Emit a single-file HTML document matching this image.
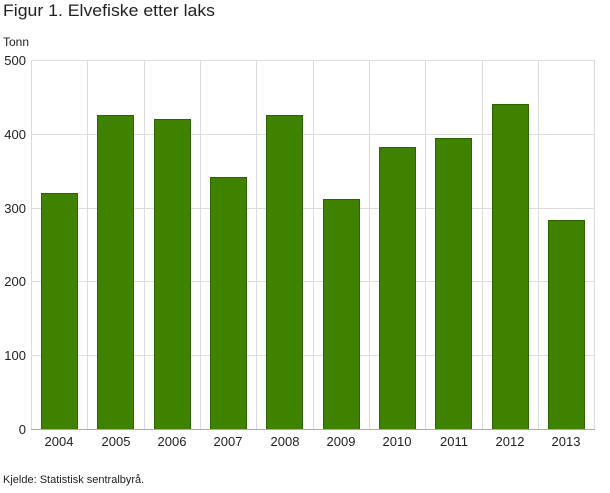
<!DOCTYPE html>
<html><head><meta charset="utf-8"><style>
body{margin:0;background:#fff;width:610px;height:488px;overflow:hidden;font-family:"Liberation Sans",sans-serif}
</style></head><body>
<svg width="610" height="488" xmlns="http://www.w3.org/2000/svg" font-family="Liberation Sans, sans-serif">
<text x="3" y="16" font-size="17" fill="#222" textLength="212" lengthAdjust="spacingAndGlyphs">Figur 1. Elvefiske etter laks</text>
<text x="3" y="46" font-size="12" fill="#222">Tonn</text>
<g stroke="#dcdcdc" stroke-width="1">
<line x1="31" y1="60.5" x2="595" y2="60.5"/>
<line x1="31" y1="134.5" x2="595" y2="134.5"/>
<line x1="31" y1="208.5" x2="595" y2="208.5"/>
<line x1="31" y1="281.5" x2="595" y2="281.5"/>
<line x1="31" y1="355.5" x2="595" y2="355.5"/>
<line x1="31.5" y1="60" x2="31.5" y2="429"/>
<line x1="87.5" y1="60" x2="87.5" y2="429"/>
<line x1="144.5" y1="60" x2="144.5" y2="429"/>
<line x1="200.5" y1="60" x2="200.5" y2="429"/>
<line x1="256.5" y1="60" x2="256.5" y2="429"/>
<line x1="313.5" y1="60" x2="313.5" y2="429"/>
<line x1="369.5" y1="60" x2="369.5" y2="429"/>
<line x1="425.5" y1="60" x2="425.5" y2="429"/>
<line x1="482.5" y1="60" x2="482.5" y2="429"/>
<line x1="538.5" y1="60" x2="538.5" y2="429"/>
<line x1="594.5" y1="60" x2="594.5" y2="429"/>
</g>
<g fill="#3f8200" stroke="#2e6400" stroke-width="1">
<rect x="41.5" y="193.5" width="36" height="236"/>
<rect x="97.5" y="115.5" width="36" height="314"/>
<rect x="154.5" y="119.5" width="36" height="310"/>
<rect x="210.5" y="177.5" width="36" height="252"/>
<rect x="266.5" y="115.5" width="36" height="314"/>
<rect x="323.5" y="199.5" width="36" height="230"/>
<rect x="379.5" y="147.5" width="36" height="282"/>
<rect x="435.5" y="138.5" width="36" height="291"/>
<rect x="492.5" y="104.5" width="36" height="325"/>
<rect x="548.5" y="220.5" width="36" height="209"/>
</g>
<line x1="31" y1="429.5" x2="595" y2="429.5" stroke="#aaa"/>
<g font-size="13" fill="#222" text-anchor="end">
<text x="26" y="65">500</text>
<text x="26" y="139">400</text>
<text x="26" y="213">300</text>
<text x="26" y="286">200</text>
<text x="26" y="360">100</text>
<text x="26" y="434">0</text>
</g>
<g font-size="13" fill="#222" text-anchor="middle">
<text x="59" y="446">2004</text>
<text x="116" y="446">2005</text>
<text x="172" y="446">2006</text>
<text x="228" y="446">2007</text>
<text x="285" y="446">2008</text>
<text x="341" y="446">2009</text>
<text x="397" y="446">2010</text>
<text x="454" y="446">2011</text>
<text x="510" y="446">2012</text>
<text x="566" y="446">2013</text>
</g>
<text x="3" y="483" font-size="11" fill="#222">Kjelde: Statistisk sentralbyrå.</text>
</svg>
</body></html>
